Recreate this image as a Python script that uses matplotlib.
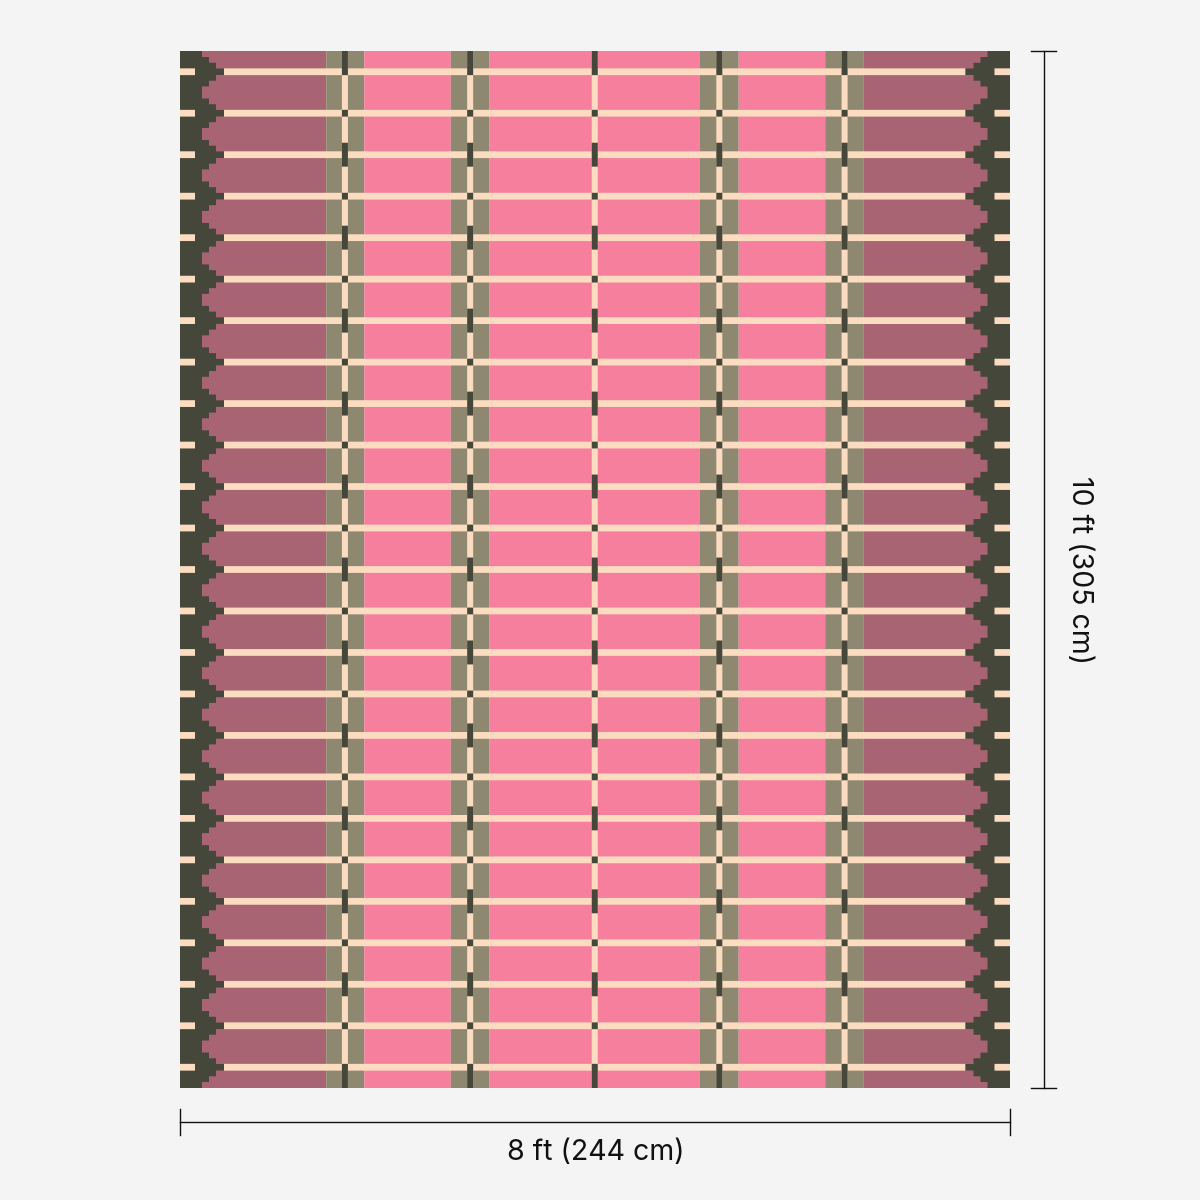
import matplotlib
matplotlib.use("Agg")
import matplotlib.pyplot as plt

# rug layout, measured in weave cells (120 x 150)
rug_width = 120
rug_height = 150

band_edges = [0, 21.2, 26.7, 39.2, 44.8, 75.2, 80.8, 93.3, 98.8, 120]
band_colors = ["#A86472", "#8F8870", "#F77F9E", "#8F8870", "#F77F9E",
               "#8F8870", "#F77F9E", "#8F8870", "#A86472"]

stripe_rows = [3, 9, 15, 21, 27, 33, 39, 45, 51, 57, 63, 69, 75, 81, 87, 93,
               99, 105, 111, 117, 123, 129, 135, 141, 147]
warp_columns = [23.9, 42, 60, 78, 96.1]

# border staircase: half height around a stripe -> border width
border_base = 3.25
stair_half_heights = [2.13, 1.3, 0.47]
stair_widths = [4.26, 5.27, 6.43]
stub_width = 2.24

stripe_height = 0.98
warp_width = 0.87
long_dash_half = 1.73

dark = "#45473A"
cream = "#FCDCC0"
background = "#F4F4F4"
ink = "#111111"

plt.rcParams["font.family"] = ["Inter", "DejaVu Sans"]

fig = plt.figure(figsize=(12, 12), dpi=100, facecolor=background)
ax = fig.add_axes([179.5 / 1200, 112 / 1200, 830.5 / 1200, 1037 / 1200])
ax.set_xlim(0, rug_width)
ax.set_ylim(rug_height, 0)
ax.axis("off")

# Vertical colour bands
for i, color in enumerate(band_colors):
    ax.bar(band_edges[i], rug_height, width=band_edges[i + 1] - band_edges[i],
           bottom=0, align="edge", color=color, linewidth=0, zorder=1, snap=False)

# Cream stripes, broken where the border runs over them
span_start = stair_widths[-1]
span_end = rug_width - stair_widths[-1]
for row in stripe_rows:
    ax.barh(row, span_end - span_start, left=span_start, height=stripe_height,
            color=cream, linewidth=0, zorder=2, snap=False)

# Warp lines: cream with dark dashes on the crossings
for col in warp_columns:
    ax.bar(col, rug_height, width=warp_width, color=cream, linewidth=0, zorder=3,
           align="center", snap=False)
    for i, row in enumerate(stripe_rows):
        half = long_dash_half if i % 2 == 0 else stripe_height / 2
        top = row - half
        bottom = row + half
        if i == 0:
            top, bottom = 0, row + stripe_height / 2
        if i == len(stripe_rows) - 1:
            top, bottom = row - stripe_height / 2, rug_height
        ax.bar(col, bottom - top, width=warp_width, bottom=top, color=dark,
               linewidth=0, zorder=4, align="center", snap=False)

# Stepped borders on both sides
for side_left, width_sign in [(0, 1), (rug_width, -1)]:
    ax.bar(side_left, rug_height, width=width_sign * border_base, align="edge",
           color=dark, linewidth=0, zorder=5, snap=False)
    for row in stripe_rows:
        for half, w in zip(stair_half_heights, stair_widths):
            ax.barh(row, width_sign * w, left=side_left, height=2 * half,
                    color=dark, linewidth=0, zorder=5, snap=False)
        ax.barh(row, width_sign * stub_width, left=side_left, height=stripe_height,
                color=cream, linewidth=0, zorder=6, snap=False)

# Dimension lines
dim_y = 154.9
dim_x = 124.93
ax.plot([0, rug_width], [dim_y, dim_y], color=ink, lw=1, clip_on=False)
for x in [0, rug_width]:
    ax.plot([x, x], [153.0, 156.8], color=ink, lw=1, clip_on=False)
ax.plot([dim_x, dim_x], [0, rug_height], color=ink, lw=1, clip_on=False)
for y in [0, rug_height]:
    ax.plot([123.1, 126.7], [y, y], color=ink, lw=1, clip_on=False)

ax.text(60.1, 159.4, "8 ft (244 cm)", ha="center", va="center", fontsize=20.5,
        color=ink, clip_on=False)
ax.text(130.1, 75.1, "10 ft (305 cm)", ha="center", va="center", rotation=-90,
        fontsize=20.5, color=ink, clip_on=False)

fig.savefig("out.png", dpi=100, facecolor=background)
